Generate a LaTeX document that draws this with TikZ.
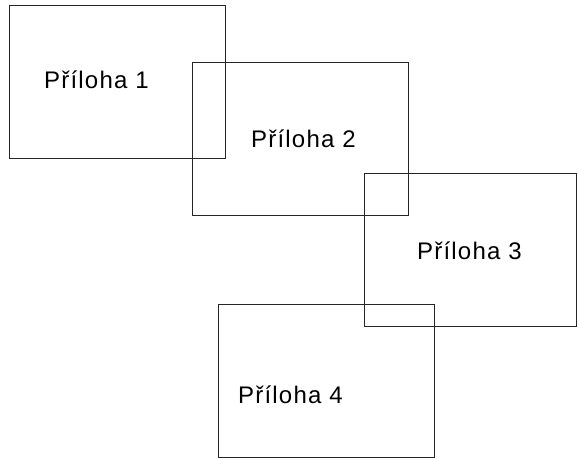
\documentclass[tikz,border=0pt]{standalone}
\usepackage{fontspec}
\setmainfont{Liberation Sans}
\usetikzlibrary{positioning,calc}

\tikzset{
  okno/.style={draw=black!85, line width=0.9pt, minimum width=216pt, minimum height=153pt, inner sep=0pt},
  popis/.style={font=\fontsize{24}{24}\selectfont\addfontfeatures{LetterSpace=5}, inner sep=0pt, anchor=base west}
}

\begin{document}
\begin{tikzpicture}[x=1pt,y=-1pt]
        \useasboundingbox (0,0) rectangle (579,459);
        \foreach \n/\x/\y/\w in {1/117/81.5/216, 2/300.5/139/216, 3/470.5/249.5/212, 4/326.5/381/216}
            {
                \node[okno, minimum width=\w pt] (P\n) at (\x,\y) {} ;
            }
        \foreach \n/\x/\y in {1/44/88, 2/251/147, 3/417/259, 4/238/403}
            {
                \node[popis] (T\n) at (\x,\y) {Příloha \n} ;
            }
    \end{tikzpicture}
\end{document}
